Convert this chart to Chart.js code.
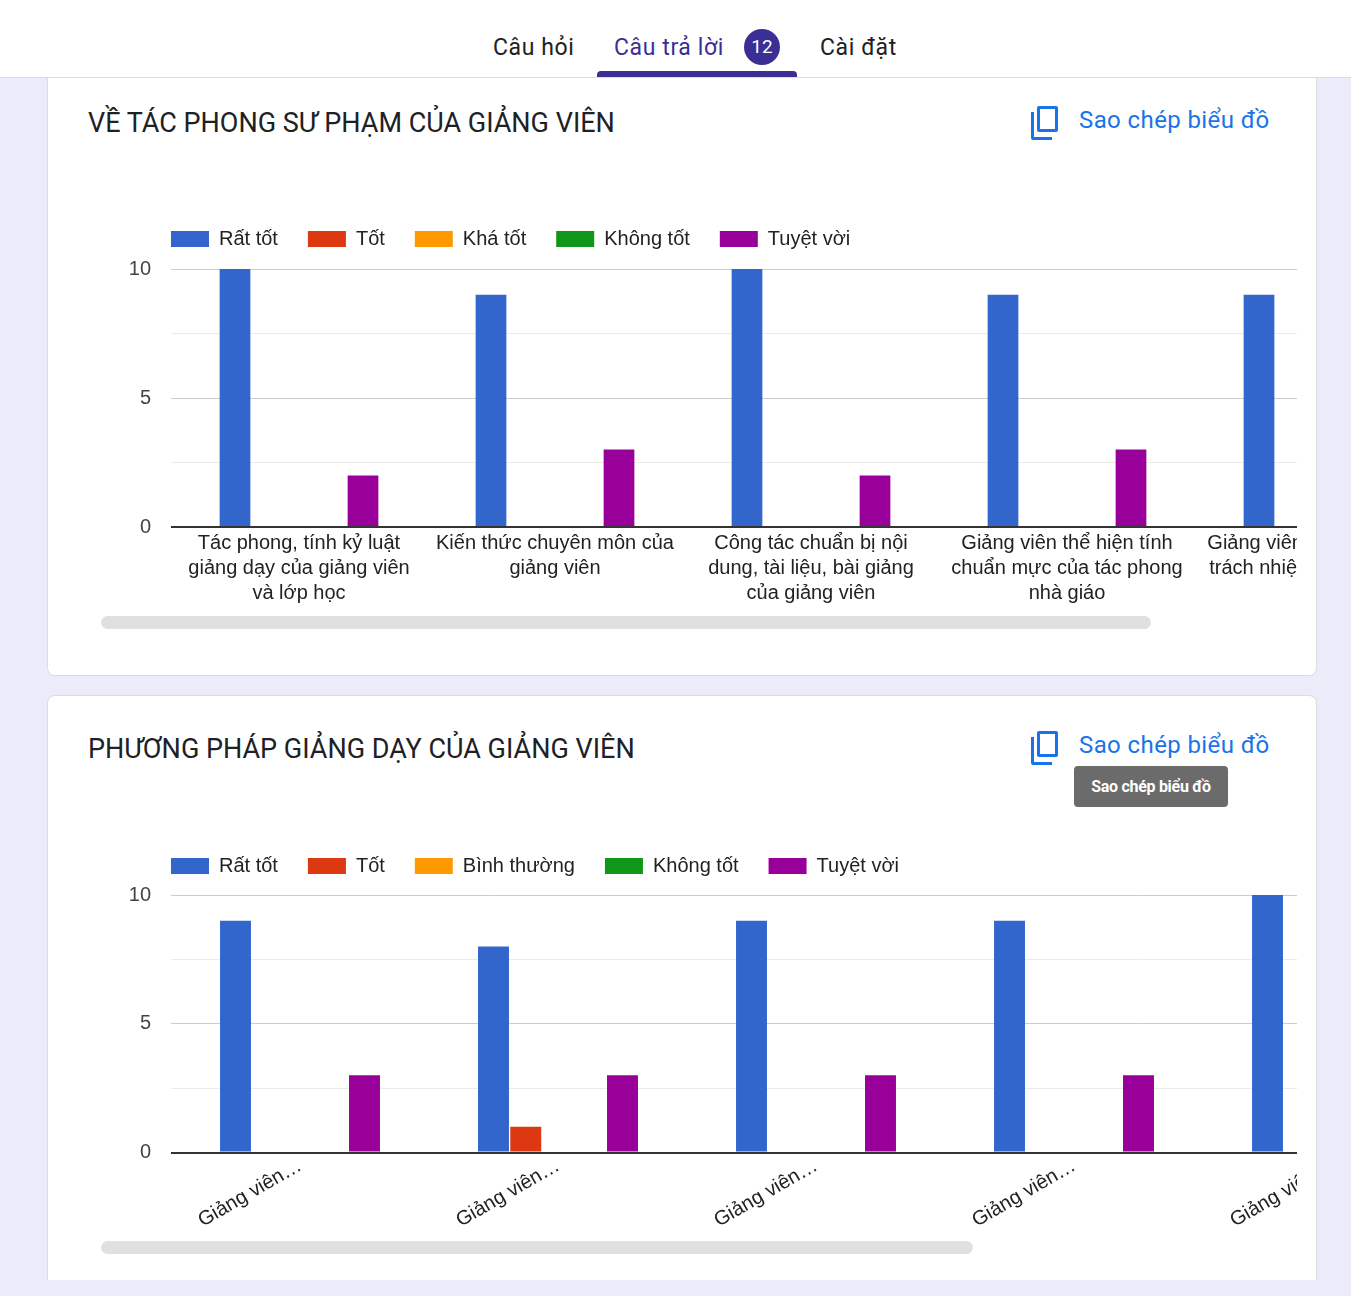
<!DOCTYPE html>
<html lang="vi">
<head>
<meta charset="utf-8">
<title>Câu trả lời</title>
<script src="https://cdn.jsdelivr.net/npm/chart.js@4.4.1/dist/chart.umd.min.js"></script>
<style>
    html, body { margin: 0; padding: 0; }
    body {
        width: 1351px; height: 1296px; overflow: hidden; position: relative;
        background: #ecebf9; font-family: Roboto, "Noto Sans", Arial, sans-serif;
    }
    .topbar {
        position: absolute; left: 0; top: 0; width: 1351px; height: 77px;
        background: #fff; border-bottom: 1px solid #dadce0; z-index: 5;
    }
    .tab { position: absolute; top: 33px; font-size: 23px; color: #202124; line-height: 30px; letter-spacing: 0.6px; }
    .tab.active { color: #3b2f96; }
    .badge {
        position: absolute; left: 744px; top: 29px; width: 36px; height: 36px; border-radius: 50%;
        background: #3b2f96; color: #fff; font-size: 19px; line-height: 36px; text-align: center;
    }
    .underline {
        position: absolute; left: 597px; top: 71px; width: 200px; height: 6px;
        background: #3b2f96; border-radius: 4px 4px 0 0;
    }
    .card {
        position: absolute; left: 47px; width: 1268px; background: #fff;
        border: 1px solid #dadce0; border-radius: 8px; overflow: hidden;
    }
    .title { position: absolute; left: 40px; font-size: 27px; color: #202124; white-space: nowrap; }
    .copy { position: absolute; left: 982px; color: #1a73e8; font-size: 24px; }
    .copy svg { position: absolute; left: 0; top: 0; }
    .copy span { position: absolute; left: 49px; top: 2px; white-space: nowrap; letter-spacing: 0.4px; }
    .viewport { position: absolute; left: 53px; width: 1196px; overflow: hidden; }
    .thumb { position: absolute; left: 53px; height: 13px; background: #dfe1df; border-radius: 7px; }
    .tooltip {
        position: absolute; left: 1074px; top: 766px; width: 154px; height: 41px; z-index: 6;
        background: #6b6b6b; color: #fff; border-radius: 4px; font-size: 16px; font-weight: bold;
        line-height: 41px; text-align: center; letter-spacing: -0.3px;
    }
</style>
</head>
<body>
<div class="topbar">
    <div class="tab" style="left:493px">Câu hỏi</div>
    <div class="tab active" style="left:614px">Câu trả lời</div>
    <div class="badge">12</div>
    <div class="tab" style="left:820px">Cài đặt</div>
    <div class="underline"></div>
</div>

<div class="card" style="top:40px;height:634px">
    <div class="title" style="top:66px">VỀ TÁC PHONG SƯ PHẠM CỦA GIẢNG VIÊN</div>
    <div class="copy" style="top:63px">
        <svg width="30" height="36" viewBox="0 0 30 36"><path d="M9 2h17a2 2 0 0 1 2 2v22a2 2 0 0 1-2 2H9a2 2 0 0 1-2-2V4a2 2 0 0 1 2-2zm1 3v20h15V5z M1 8h3v25h18v3H3a2 2 0 0 1-2-2z" fill="#1a73e8"/></svg>
        <span>Sao chép biểu đồ</span>
    </div>
    <div class="viewport" style="top:160px;height:415px">
        <div style="position:relative;width:1350px;height:415px"><canvas id="chart1"></canvas></div>
    </div>
    <div class="thumb" style="top:575px;width:1050px"></div>
</div>

<div class="card" style="top:695px;height:600px;border-radius:8px 8px 0 0">
    <div class="title" style="top:37px">PHƯƠNG PHÁP GIẢNG DẠY CỦA GIẢNG VIÊN</div>
    <div class="copy" style="top:33px">
        <svg width="30" height="36" viewBox="0 0 30 36"><path d="M9 2h17a2 2 0 0 1 2 2v22a2 2 0 0 1-2 2H9a2 2 0 0 1-2-2V4a2 2 0 0 1 2-2zm1 3v20h15V5z M1 8h3v25h18v3H3a2 2 0 0 1-2-2z" fill="#1a73e8"/></svg>
        <span>Sao chép biểu đồ</span>
    </div>
    <div class="viewport" style="top:130px;height:412px">
        <div style="position:relative;width:1360px;height:412px"><canvas id="chart2"></canvas></div>
    </div>
    <div class="thumb" style="top:545px;width:872px"></div>
</div>
<div style="position:absolute;left:0;top:1280px;width:1351px;height:16px;background:#ecebf9;z-index:4"></div>
<div class="tooltip">Sao chép biểu đồ</div>

<script>
// bảng màu mặc định của Google Charts
const colors = ['#3366cc', '#dc3912', '#ff9900', '#109618', '#990099'];

// biểu đồ 1
const cats1 = [
    ['Tác phong, tính kỷ luật', 'giảng dạy của giảng viên', 'và lớp học'],
    ['Kiến thức chuyên môn của', 'giảng viên'],
    ['Công tác chuẩn bị nội', 'dung, tài liệu, bài giảng', 'của giảng viên'],
    ['Giảng viên thể hiện tính', 'chuẩn mực của tác phong', 'nhà giáo'],
    ['Giảng viên có tinh thần và', 'trách nhiệm với công việc']
];
const series1 = ['Rất tốt', 'Tốt', 'Khá tốt', 'Không tốt', 'Tuyệt vời'];
const ratTot1   = [10, 9, 10, 9, 9];
const tot1      = [0, 0, 0, 0, 0];
const khaTot1   = [0, 0, 0, 0, 0];
const khongTot1 = [0, 0, 0, 0, 0];
const tuyetVoi1 = [2, 3, 2, 3, 3];

// biểu đồ 2
const cats2 = ['Giảng viên…', 'Giảng viên…', 'Giảng viên…', 'Giảng viên…', 'Giảng viên…'];
const series2 = ['Rất tốt', 'Tốt', 'Bình thường', 'Không tốt', 'Tuyệt vời'];
const ratTot2   = [9, 8, 9, 9, 10];
const tot2      = [0, 1, 0, 0, 0];
const binhThuong2 = [0, 0, 0, 0, 0];
const khongTot2 = [0, 0, 0, 0, 0];
const tuyetVoi2 = [3, 3, 3, 3, 2];

const yTicks = [0, 5, 10];

// đưa chú thích về sát mép trái vùng vẽ, như Google Charts
const legendShift = {
    id: 'legendShift',
    afterUpdate(chart, args, opts) {
        const lg = chart.legend;
        const p = lg.options.labels.padding;
        lg.left = chart.chartArea.left - p;
        lg.top = chart.chartArea.top - opts.gap - p - 10;
    }
};

function makeChart(id, labels, names, values, rotate, padTop, padBottom, gap) {
    const ctx = document.getElementById(id).getContext('2d');
    return new Chart(ctx, {
        type: 'bar',
        data: {
            labels: labels,
            datasets: names.map((n, i) => ({
                label: n,
                data: values[i],
                backgroundColor: colors[i],
                borderWidth: 0,
                categoryPercentage: 0.625,
                barPercentage: 0.96
            }))
        },
        options: {
            responsive: true,
            maintainAspectRatio: false,
            animation: false,
            layout: { padding: { top: padTop, right: 0, bottom: padBottom, left: 0 } },
            plugins: {
                legendShift: { gap: gap },
                legend: {
                    align: 'start',
                    labels: {
                        boxWidth: 38, boxHeight: 16, padding: 30, color: '#222',
                        font: { family: 'Liberation Sans, Arial', size: 20 }
                    }
                },
                tooltip: { enabled: false }
            },
            scales: {
                x: {
                    grid: { display: false, drawTicks: false },
                    border: { display: false },
                    ticks: {
                        autoSkip: false,
                        maxRotation: rotate, minRotation: rotate,
                        padding: rotate ? 1 : 4,
                        color: '#222',
                        font: { family: 'Liberation Sans, Arial', size: 20, lineHeight: 25 / 20 }
                    }
                },
                y: {
                    min: 0, max: 10,
                    afterFit(scale) { scale.width = 70; },
                    afterBuildTicks(scale) {
                        scale.ticks = [0, 2.5, 5, 7.5, 10].map(v => ({ value: v }));
                    },
                    border: { display: false },
                    grid: {
                        drawTicks: false,
                        color: c => c.tick.value === 0 ? '#333' : (c.tick.value % 5 === 0 ? '#cccccc' : '#ebebeb'),
                        lineWidth: c => c.tick.value === 0 ? 2 : 1
                    },
                    ticks: {
                        padding: 20,
                        color: '#444',
                        font: { family: 'Liberation Sans, Arial', size: 20 },
                        callback: v => yTicks.includes(v) ? v : ''
                    }
                }
            }
        },
        plugins: [legendShift]
    });
}

makeChart('chart1', cats1, series1, [ratTot1, tot1, khaTot1, khongTot1, tuyetVoi1], 0, 8, 6, 30);
makeChart('chart2', cats2, series2, [ratTot2, tot2, binhThuong2, khongTot2, tuyetVoi2], 30, 9, 4, 29);
</script>
</body>
</html>
